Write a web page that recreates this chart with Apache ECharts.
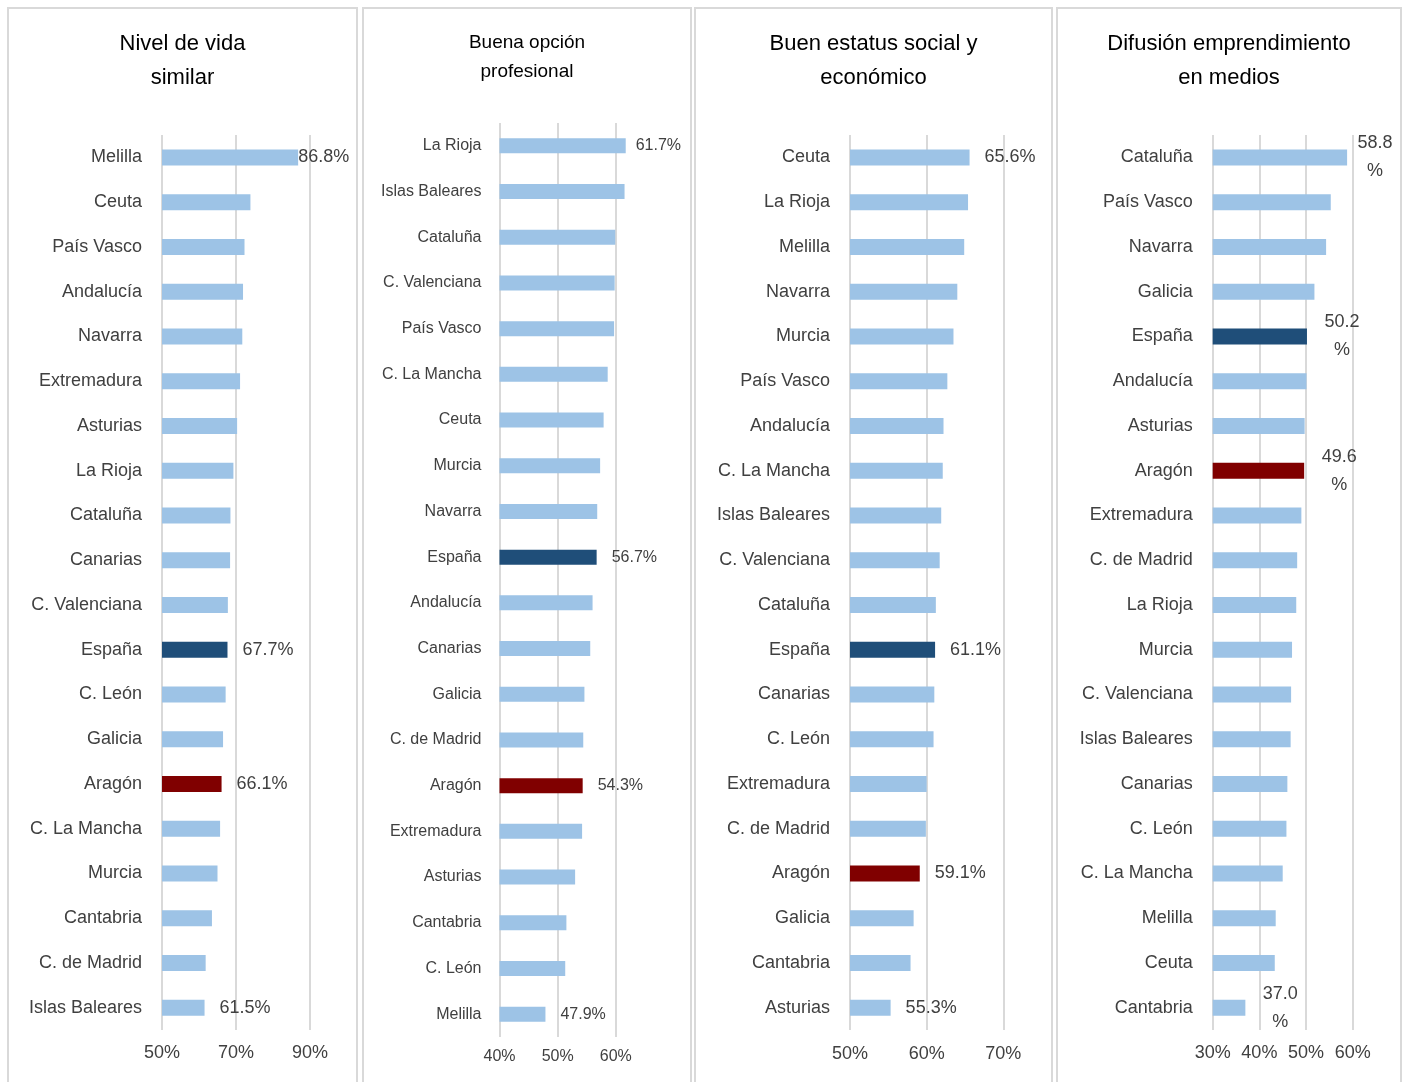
<!DOCTYPE html>
<html>
<head>
<meta charset="utf-8">
<script src="https://cdn.jsdelivr.net/npm/echarts@6/dist/echarts.min.js"></script>
<style>
  html, body { margin: 0; padding: 0; background: #ffffff; }
  #chart { width: 1408px; height: 1082px; }
</style>
</head>
<body>
<div id="chart"></div>
<script>
// Nivel de vida similar
const vidaCats = ['Melilla', 'Ceuta', 'País Vasco', 'Andalucía', 'Navarra', 'Extremadura', 'Asturias', 'La Rioja', 'Cataluña', 'Canarias', 'C. Valenciana', 'España', 'C. León', 'Galicia', 'Aragón', 'C. La Mancha', 'Murcia', 'Cantabria', 'C. de Madrid', 'Islas Baleares'];
const vidaVals = [86.8, 73.9, 72.3, 71.9, 71.7, 71.1, 70.3, 69.3, 68.5, 68.4, 67.8, 67.7, 67.2, 66.5, 66.1, 65.7, 65.0, 63.5, 61.8, 61.5];

// Buena opción profesional
const opcionCats = ['La Rioja', 'Islas Baleares', 'Cataluña', 'C. Valenciana', 'País Vasco', 'C. La Mancha', 'Ceuta', 'Murcia', 'Navarra', 'España', 'Andalucía', 'Canarias', 'Galicia', 'C. de Madrid', 'Aragón', 'Extremadura', 'Asturias', 'Cantabria', 'C. León', 'Melilla'];
const opcionVals = [61.7, 61.5, 59.9, 59.8, 59.7, 58.6, 57.9, 57.3, 56.8, 56.7, 56.0, 55.6, 54.6, 54.4, 54.3, 54.2, 53.0, 51.5, 51.3, 47.9];

// Buen estatus social y económico
const estatusCats = ['Ceuta', 'La Rioja', 'Melilla', 'Navarra', 'Murcia', 'País Vasco', 'Andalucía', 'C. La Mancha', 'Islas Baleares', 'C. Valenciana', 'Cataluña', 'España', 'Canarias', 'C. León', 'Extremadura', 'C. de Madrid', 'Aragón', 'Galicia', 'Cantabria', 'Asturias'];
const estatusVals = [65.6, 65.4, 64.9, 64.0, 63.5, 62.7, 62.2, 62.1, 61.9, 61.7, 61.2, 61.1, 61.0, 60.9, 60.0, 59.9, 59.1, 58.3, 57.9, 55.3];

// Difusión emprendimiento en medios
const difusionCats = ['Cataluña', 'País Vasco', 'Navarra', 'Galicia', 'España', 'Andalucía', 'Asturias', 'Aragón', 'Extremadura', 'C. de Madrid', 'La Rioja', 'Murcia', 'C. Valenciana', 'Islas Baleares', 'Canarias', 'C. León', 'C. La Mancha', 'Melilla', 'Ceuta', 'Cantabria'];
const difusionVals = [58.8, 55.3, 54.3, 51.8, 50.2, 50.1, 49.7, 49.6, 49.0, 48.1, 47.9, 47.0, 46.8, 46.7, 46.0, 45.8, 45.0, 43.5, 43.3, 37.0];

// Axis ranges: [min, max, step, last gridline]
const vidaAxis = [50, 90, 20, 90];
const opcionAxis = [40, 70, 10, 60];
const estatusAxis = [50, 70, 10, 70];
const difusionAxis = [30, 60, 10, 60];

const FONT = '"Liberation Sans", Arial, sans-serif';
const LIGHT = '#9dc3e6';
const NAVY = '#1f4e79';
const RED = '#800000';
const GRIDLINE = '#d9d9d9';

const panels = [
  { title: 'Nivel de vida\nsimilar', cats: vidaCats, vals: vidaVals, axis: vidaAxis,
    box: [8, 357], grid: { left: 162, top: 135, width: 148, height: 895 }, titleTop: 22,
    titleSize: 22, titleLH: 34, catSize: 18, catMargin: 20, axisSize: 18, axisMargin: 14,
    valSize: 18, dist: 15, distOverride: { 'Melilla': 0 }, wrap: false, barWidth: 16 },
  { title: 'Buena opción\nprofesional', cats: opcionCats, vals: opcionVals, axis: opcionAxis,
    box: [363, 691], grid: { left: 499.5, top: 123, width: 174.5, height: 914 }, titleTop: 23,
    titleSize: 19, titleLH: 29, catSize: 16, catMargin: 18, axisSize: 16, axisMargin: 12,
    valSize: 16, dist: 15, distOverride: { 'La Rioja': 10 }, wrap: false, barWidth: 15 },
  { title: 'Buen estatus social y\neconómico', cats: estatusCats, vals: estatusVals, axis: estatusAxis,
    box: [695, 1052], grid: { left: 850, top: 135, width: 153.3, height: 895 }, titleTop: 22,
    titleSize: 22, titleLH: 34, catSize: 18, catMargin: 20, axisSize: 18, axisMargin: 15,
    valSize: 18, dist: 15, distOverride: {}, wrap: false, barWidth: 16 },
  { title: 'Difusión emprendimiento\nen medios', cats: difusionCats, vals: difusionVals, axis: difusionAxis,
    box: [1057, 1401], grid: { left: 1212.7, top: 135, width: 140, height: 895 }, titleTop: 22,
    titleSize: 22, titleLH: 34, catSize: 18, catMargin: 20, axisSize: 18, axisMargin: 14,
    valSize: 18, dist: 16, distOverride: { 'Cataluña': 9 }, wrap: true, barWidth: 16 }
];

function barColor(name) {
  if (name === 'España') return NAVY;
  if (name === 'Aragón') return RED;
  return LIGHT;
}

const option = {
  backgroundColor: '#ffffff',
  animation: false,
  textStyle: { fontFamily: FONT },
  title: [],
  grid: [],
  xAxis: [],
  yAxis: [],
  series: [],
  graphic: []
};

panels.forEach((p, i) => {
  const center = (p.box[0] + p.box[1]) / 2;
  const lastLine = p.axis[3];
  const hasHeadroom = p.axis[1] > lastLine;

  // panel frame (open at the bottom)
  option.graphic.push({
    type: 'rect',
    silent: true,
    shape: { x: p.box[0], y: 8, width: p.box[1] - p.box[0], height: 1100 },
    style: { fill: 'none', stroke: GRIDLINE, lineWidth: 2 }
  });

  option.title.push({
    text: p.title,
    left: center - 5,
    top: p.titleTop,
    textAlign: 'center',
    textStyle: {
      fontFamily: FONT, fontSize: p.titleSize, fontWeight: 'normal',
      color: '#000000', lineHeight: p.titleLH
    }
  });

  option.grid.push(Object.assign({ containLabel: false }, p.grid));

  option.xAxis.push({
    type: 'value',
    gridIndex: i,
    min: p.axis[0],
    max: p.axis[1],
    interval: p.axis[2],
    axisLine: { show: false },
    axisTick: { show: false },
    splitLine: {
      show: true,
      showMaxLine: !hasHeadroom,
      lineStyle: { color: GRIDLINE, width: 2 }
    },
    axisLabel: {
      showMaxLabel: !hasHeadroom,
      formatter: v => (v > lastLine ? '' : v + '%'),
      fontFamily: FONT, fontSize: p.axisSize, color: '#404040', margin: p.axisMargin
    }
  });

  option.yAxis.push({
    type: 'category',
    gridIndex: i,
    inverse: true,
    data: p.cats,
    axisLine: { show: false },
    axisTick: { show: false },
    splitLine: { show: false },
    axisLabel: {
      fontFamily: FONT, fontSize: p.catSize, color: '#404040', margin: p.catMargin
    }
  });

  const last = p.cats.length - 1;
  const data = p.vals.map((v, k) => {
    const name = p.cats[k];
    const labelled = k === 0 || k === last || name === 'España' || name === 'Aragón';
    const item = { value: v, itemStyle: { color: barColor(name) } };
    if (labelled) {
      const dist = (name in p.distOverride) ? p.distOverride[name] : p.dist;
      item.label = {
        show: true,
        position: 'right',
        distance: dist,
        fontFamily: FONT,
        fontSize: p.valSize,
        color: '#404040',
        formatter: p.wrap
          ? (prm => '{n|' + prm.value.toFixed(1) + '}\n{n|%}')
          : (prm => prm.value.toFixed(1) + '%')
      };
      if (p.wrap) {
        item.label.rich = {
          n: { width: 38, align: 'center', fontFamily: FONT, fontSize: p.valSize, color: '#404040', lineHeight: 28 }
        };
      }
    }
    return item;
  });

  option.series.push({
    type: 'bar',
    xAxisIndex: i,
    yAxisIndex: i,
    barWidth: p.barWidth,
    data: data,
    label: { show: false },
    emphasis: { disabled: true }
  });
});

const chart = echarts.init(document.getElementById('chart'), null, { renderer: 'canvas' });
chart.setOption(option);
</script>
</body>
</html>
